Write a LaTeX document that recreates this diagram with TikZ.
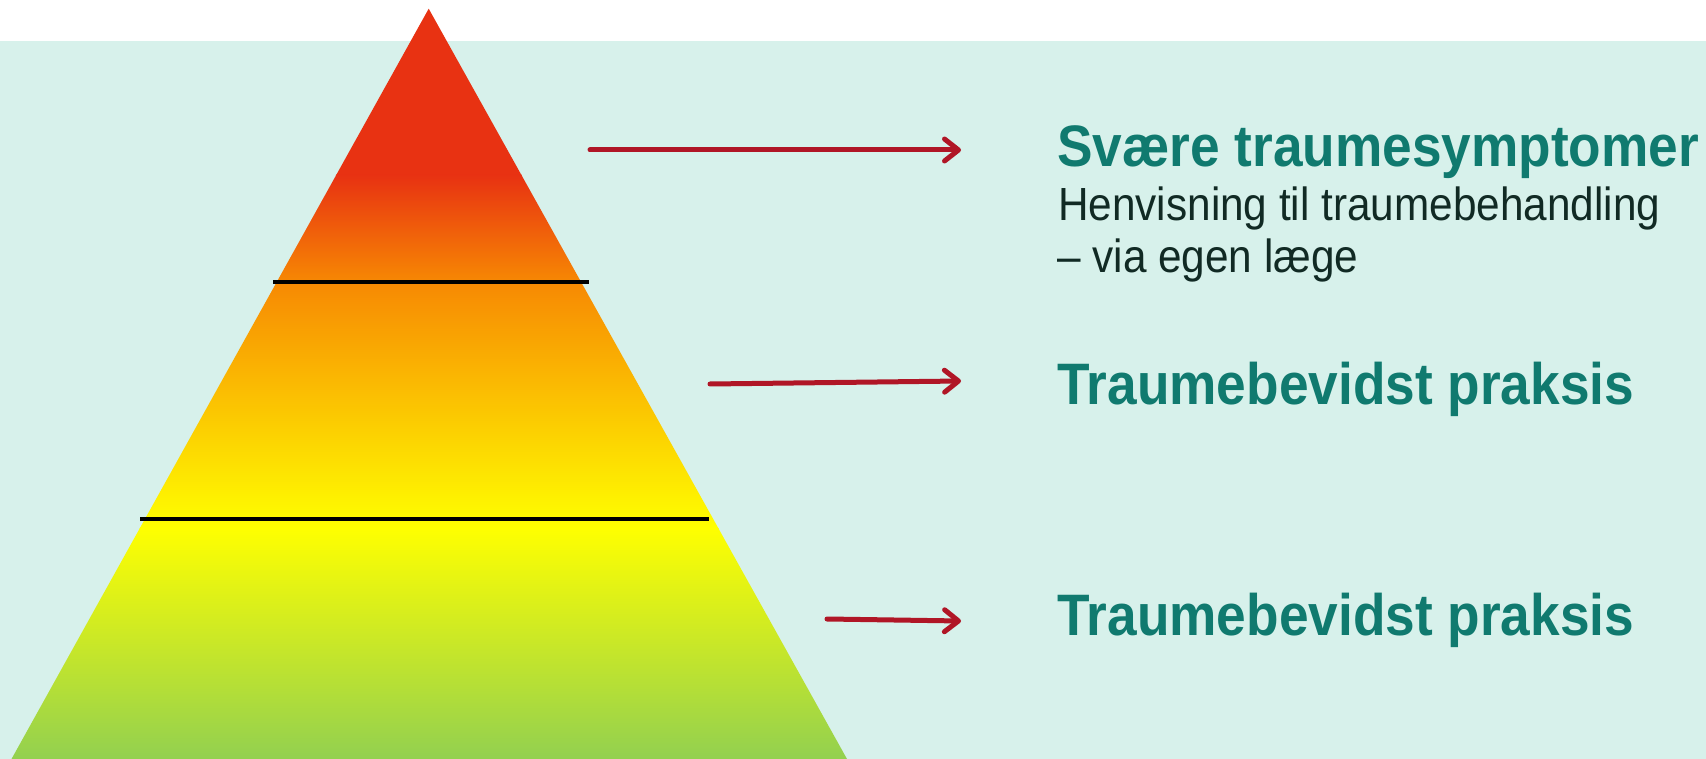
\documentclass[tikz,border=0pt]{standalone}
\usepackage{fontspec}
\setmainfont{Liberation Sans}
\newfontfamily\slimsans[FakeStretch=0.91]{Liberation Sans}
\usetikzlibrary{arrows.meta}
\definecolor{mint}{RGB}{215,241,235}
\definecolor{tealtext}{RGB}{16,122,111}
\definecolor{darktext}{RGB}{17,42,36}
\definecolor{arrowred}{RGB}{176,22,38}
\definecolor{pyrred}{RGB}{232,50,18}
\definecolor{pyrorange}{RGB}{247,137,3}
\definecolor{pyryellow}{RGB}{255,255,0}
\definecolor{pyrgreen}{RGB}{146,208,80}
\tikzset{
  pointer/.style={draw=arrowred, line width=5pt, line cap=round,
    -{Straight Barb[length=14pt, width=22pt, line cap=round, line join=round]}},
  levelline/.style={draw=black, line width=4.5pt},
  headline/.style={anchor=base west, inner sep=0pt, text=tealtext,
    font=\slimsans\fontsize{58.5}{66}\selectfont\bfseries},
  subline/.style={anchor=base west, inner sep=0pt, text=darktext,
    font=\slimsans\fontsize{46.5}{54}\selectfont},
}
\begin{document}
\begin{tikzpicture}[x=1pt,y=-1pt]
\useasboundingbox (0,0) rectangle (1706,759);
\fill[white] (0,0) rectangle (1706,759);
\fill[mint] (0,41.5) rectangle (1706,759);
% pyramid
\begin{scope}
  \clip (428.7,8.7) -- (847,759) -- (11.5,759) -- cycle;
  \fill[pyrred] (0,0) rectangle (900,176);
  \shade[top color=pyrred, bottom color=pyrorange] (0,175) rectangle (900,283);
  \shade[top color=pyrorange, bottom color=pyryellow] (0,282) rectangle (900,528);
  \shade[top color=pyryellow, bottom color=pyrgreen] (0,527) rectangle (900,760);
\end{scope}
\coordinate (l1a) at (273,282);
\coordinate (l1b) at (589,282);
\coordinate (l2a) at (140,519);
\coordinate (l2b) at (709,519);
\draw[levelline] (l1a) -- (l1b);
\draw[levelline] (l2a) -- (l2b);
% arrows
\coordinate (a1s) at (590,150);
\coordinate (a1e) at (961,150);
\coordinate (a2s) at (710,384);
\coordinate (a2e) at (961,381);
\coordinate (a3s) at (827,619);
\coordinate (a3e) at (961,621);
\draw[pointer] (a1s) -- (a1e);
\draw[pointer] (a2s) -- (a2e);
\draw[pointer] (a3s) -- (a3e);
% texts
\node[headline] (t1) at (1057,167) {Svære traumesymptomer};
\node[subline] (s1) at (1058,221) {Henvisning til traumebehandling};
\node[subline] (s2) at (1057,273) {– via egen læge};
\node[headline] (t2) at (1057,404) {Traumebevidst praksis};
\node[headline] (t3) at (1057,635) {Traumebevidst praksis};
\end{tikzpicture}
\end{document}
